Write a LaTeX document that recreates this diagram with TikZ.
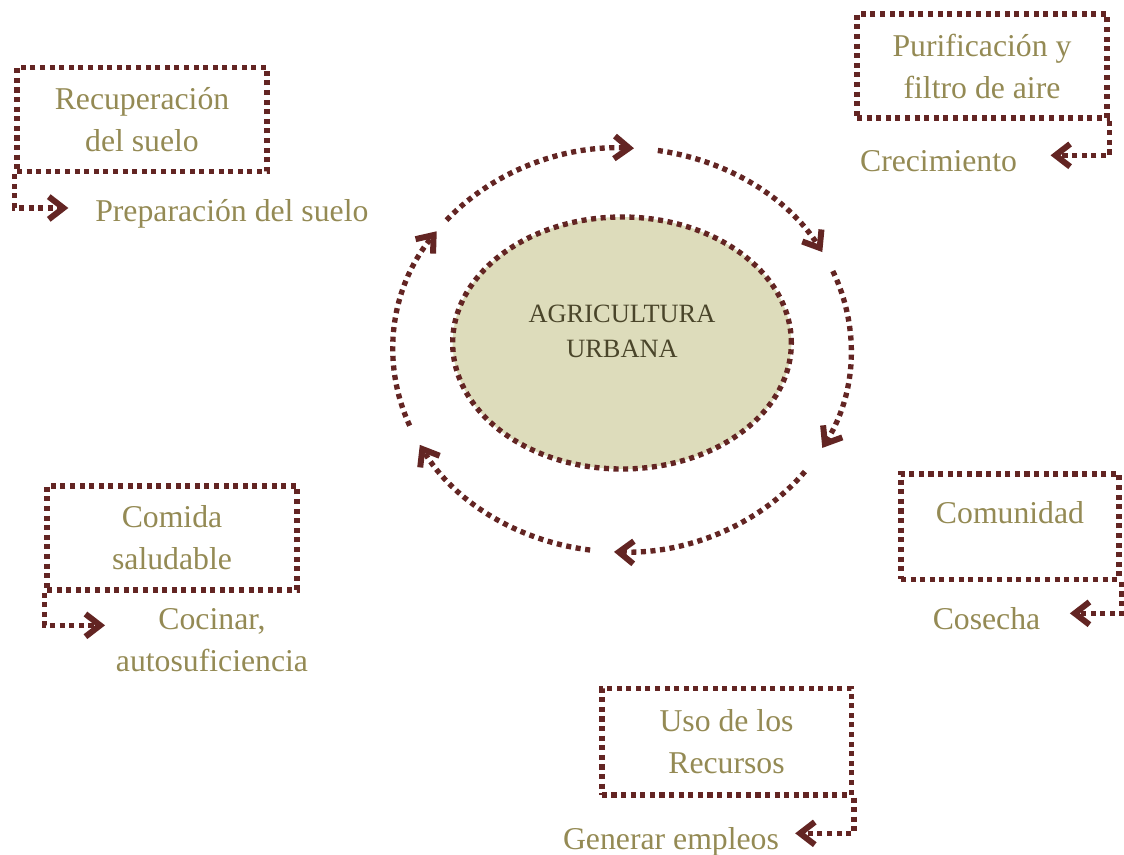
\documentclass[tikz,border=0pt]{standalone}
\usepackage{fontspec}
\setmainfont{Liberation Serif}
\usetikzlibrary{shapes.geometric}
\usetikzlibrary{arrows.meta}

\definecolor{vino}{HTML}{632523}
\definecolor{oliva}{HTML}{948A54}
\definecolor{arena}{HTML}{DDDCBB}
\definecolor{tierra}{HTML}{4A452A}

\begin{document}
\begin{tikzpicture}[x=0.75pt,y=0.75pt,every node/.style={font=\fontsize{23.8}{31.5}\selectfont,text=oliva},
				   puntos/.style={draw=vino,line width=4pt,dash pattern=on 3.8pt off 3.4pt},
				   box/.style={puntos,text=oliva,minimum width=187.5pt,minimum height=78pt,align=center,inner sep=0pt},
				   lbl/.style={inner sep=0pt,text height=0.7em,text depth=0.22em},
				   link/.style={puntos,-{Straight Barb[length=11pt,width=17pt,line width=4.5pt]}},
				   hub/.style={ellipse,puntos,fill=arena,minimum width=254pt,minimum height=189pt}]
\useasboundingbox (0,0) rectangle (1124,-855);
\node[hub] (hub) at (622,-343) {};
\node[text=tierra,align=center,inner sep=0pt,font=\fontsize{19.8}{26.3}\selectfont] (hubtxt) at (622,-331) {AGRICULTURA\\URBANA};
\coordinate (ring) at (622,-350);
\foreach \a/\b in {140/87,81/29,23/-29,-37/-92,-98/-152,-158/-216}
	\draw[link] ([shift={(\a:229 and 202)}]ring) arc[start angle=\a,end angle=\b,x radius=229,y radius=202];

\node[box] (rec) at (142,-119.5) {Recuperación\\del suelo};
\node[box] (pur) at (982,-66) {Purificación y\\filtro de aire};
\node[box] (comida) at (172,-538) {Comida\\saludable};
\node[box,minimum width=163.5pt,minimum height=79pt,text height=0.7em,text depth=11.5pt] (comu) at (1010,-526.5) {Comunidad};
\node[box,minimum width=187pt,minimum height=80pt] (uso) at (726.5,-741.5) {Uso de los\\Recursos};

\node[lbl,anchor=west] (prep) at (95,-218) {Preparación del suelo};
\node[lbl] (crec) at (938.5,-168) {Crecimiento};
\node[inner sep=0pt,align=center] (coc) at (212,-640) {Cocinar,\\autosuficiencia};
\node[lbl] (cos) at (986.5,-626) {Cosecha};
\node[lbl] (gen) at (671,-846) {Generar empleos};

\draw[link] (rec.south west) |- ([xshift=-20pt,yshift=7.5pt]prep.west);
\draw[link] (pur.south east) |- ([xshift=25pt,yshift=9.5pt]crec.east);
\draw[link] (comida.south west) |- ([xshift=-8pt,yshift=11pt]coc.west);
\draw[link] (comu.south east) |- ([xshift=22pt,yshift=9.5pt]cos.east);
\draw[link] (uso.south east) |- ([xshift=12pt,yshift=9.5pt]gen.east);
\end{tikzpicture}
\end{document}
